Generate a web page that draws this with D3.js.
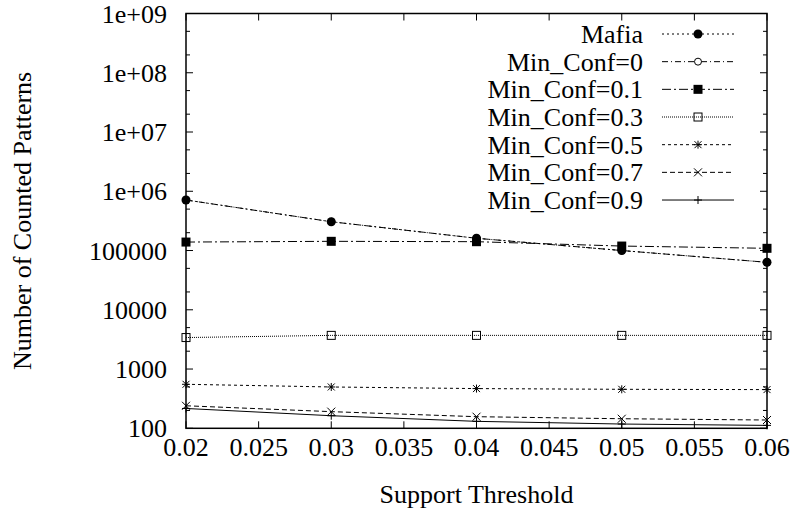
<!DOCTYPE html>
<html>
<head>
<meta charset="utf-8">
<script src="https://cdn.jsdelivr.net/npm/d3@7"></script>
<style>
  svg text { font-family: "Liberation Serif", monospace; font-size: 26px; }
</style>
</head>
<body style="margin:0">
<script>
// data
const thresholds = [0.02, 0.03, 0.04, 0.05, 0.06];
const seriesNames = ["Mafia", "Min_Conf=0", "Min_Conf=0.1", "Min_Conf=0.3", "Min_Conf=0.5", "Min_Conf=0.7", "Min_Conf=0.9"];
const mafia     = [713000, 306000, 161000, 100000, 63300];
const conf0     = [713000, 306000, 161000, 100000, 63300];
const conf01    = [139000, 143000, 141000, 119000, 109000];
const conf03    = [3400, 3700, 3700, 3700, 3700];
const conf05    = [553, 498, 468, 455, 450];
const conf07    = [240, 191, 157, 145, 138];
const conf09    = [216, 163, 131, 118, 112];
const xTicks = [0.02, 0.025, 0.03, 0.035, 0.04, 0.045, 0.05, 0.055, 0.06];
const yTicks = [1e2, 1e3, 1e4, 1e5, 1e6, 1e7, 1e8, 1e9];
const yTickLabels = ["100", "1000", "10000", "100000", "1e+06", "1e+07", "1e+08", "1e+09"];

const allValues = [mafia, conf0, conf01, conf03, conf05, conf07, conf09];
const dashes = ["2,3", "6,3,1,3", "9,3,2,3", "1,1", "3,3", "5,3", null];
const markers = ["dot", "circle", "square", "opensquare", "star", "cross", "plus"];

const width = 793, height = 517;
const margin = {top: 13.5, right: 26, bottom: 88.7, left: 186};

const svg = d3.select("body").append("svg")
    .attr("width", width)
    .attr("height", height);

const x = d3.scaleLinear()
    .domain([0.02, 0.06])
    .range([margin.left, width - margin.right]);

const y = d3.scaleLog()
    .domain([100, 1e9])
    .range([height - margin.bottom, margin.top]);

const plotBottom = height - margin.bottom;
const plotRight = width - margin.right;

// minor ticks at 2 and 5 in each decade
const minorTicks = [];
yTicks.slice(0, -1).forEach(t => { minorTicks.push(2 * t, 5 * t); });

// ticks on all four sides, pointing inward
const ticks = svg.append("g").attr("stroke", "#000").attr("stroke-width", 1);
xTicks.forEach(t => {
    ticks.append("line").attr("x1", x(t)).attr("x2", x(t)).attr("y1", plotBottom).attr("y2", plotBottom - 7);
    ticks.append("line").attr("x1", x(t)).attr("x2", x(t)).attr("y1", margin.top).attr("y2", margin.top + 7);
});
yTicks.forEach(t => {
    ticks.append("line").attr("x1", margin.left).attr("x2", margin.left + 7).attr("y1", y(t)).attr("y2", y(t));
    ticks.append("line").attr("x1", plotRight).attr("x2", plotRight - 7).attr("y1", y(t)).attr("y2", y(t));
});
minorTicks.forEach(t => {
    ticks.append("line").attr("x1", margin.left).attr("x2", margin.left + 4).attr("y1", y(t)).attr("y2", y(t));
    ticks.append("line").attr("x1", plotRight).attr("x2", plotRight - 4).attr("y1", y(t)).attr("y2", y(t));
});

// tick labels
svg.append("g").selectAll("text")
    .data(xTicks)
    .enter().append("text")
    .style("font-family", d => '"Liberation Serif", monospace')
    .style("font-size", "26px")
    .attr("x", d => x(d))
    .attr("y", plotBottom + 28)
    .attr("text-anchor", "middle")
    .text(d => String(d));

svg.append("g").selectAll("text")
    .data(yTicks)
    .enter().append("text")
    .style("font-family", d => '"Liberation Serif", monospace')
    .style("font-size", "26px")
    .attr("x", margin.left - 19)
    .attr("y", d => y(d) + 9)
    .attr("text-anchor", "end")
    .text((d, i) => yTickLabels[i]);

// axis titles
svg.append("g").selectAll("text")
    .data(["Support Threshold"])
    .enter().append("text")
    .style("font-family", d => '"Liberation Serif", monospace')
    .style("font-size", "26px")
    .attr("x", (margin.left + plotRight) / 2)
    .attr("y", 503)
    .attr("text-anchor", "middle")
    .text(d => d);

svg.append("g").selectAll("text")
    .data(["Number of Counted Patterns"])
    .enter().append("text")
    .style("font-family", d => '"Liberation Serif", monospace')
    .style("font-size", "26px")
    .attr("transform", `translate(31,${(margin.top + plotBottom) / 2}) rotate(-90)`)
    .attr("text-anchor", "middle")
    .text(d => d);

// draw a point marker
function drawMarker(g, type, cx, cy) {
    const s = g.append("g").attr("transform", `translate(${cx},${cy})`);
    if (type === "dot") {
        s.append("circle").attr("r", 4.5).attr("fill", "#000");
    } else if (type === "circle") {
        s.append("circle").attr("r", 3.5).attr("fill", "#fff").attr("stroke", "#000");
    } else if (type === "square") {
        s.append("rect").attr("x", -4.5).attr("y", -4.5).attr("width", 9).attr("height", 9).attr("fill", "#000");
    } else if (type === "opensquare") {
        s.append("rect").attr("x", -4).attr("y", -4).attr("width", 8).attr("height", 8).attr("fill", "none").attr("stroke", "#000");
    } else if (type === "star") {
        s.append("path").attr("d", "M-4,0H4M0,-4V4M-3.5,-3.5L3.5,3.5M-3.5,3.5L3.5,-3.5").attr("stroke", "#000");
    } else if (type === "cross") {
        s.append("path").attr("d", "M-4,-4L4,4M-4,4L4,-4").attr("stroke", "#000");
    } else if (type === "plus") {
        s.append("path").attr("d", "M-4,0H4M0,-4V4").attr("stroke", "#000");
    }
}

const line = d3.line()
    .x((d, i) => x(thresholds[i]))
    .y(d => y(d));

// series, drawn from the last one so Mafia sits on top
const plot = svg.append("g");
for (let k = allValues.length - 1; k >= 0; k--) {
    plot.append("path")
        .datum(allValues[k])
        .attr("d", line)
        .attr("fill", "none")
        .attr("stroke", "#000")
        .attr("stroke-width", 1)
        .attr("stroke-dasharray", dashes[k]);
    allValues[k].forEach((v, i) => drawMarker(plot, markers[k], x(thresholds[i]), y(v)));
}

// border
svg.append("rect")
    .attr("x", margin.left)
    .attr("y", margin.top)
    .attr("width", plotRight - margin.left)
    .attr("height", plotBottom - margin.top)
    .attr("fill", "none")
    .attr("stroke", "#000")
    .attr("stroke-width", 1.5);

// legend
const legend = svg.append("g");
legend.selectAll("text")
    .data(seriesNames)
    .enter().append("text")
    .style("font-family", d => '"Liberation Serif", monospace')
    .style("font-size", "26px")
    .attr("x", 643)
    .attr("y", (d, k) => 43 + k * 27.67)
    .attr("text-anchor", "end")
    .text(d => d);
seriesNames.forEach((name, k) => {
    const ly = 34 + k * 27.67;
    legend.append("line")
        .attr("x1", 662).attr("x2", 734)
        .attr("y1", ly).attr("y2", ly)
        .attr("stroke", "#000")
        .attr("stroke-width", 1)
        .attr("stroke-dasharray", dashes[k]);
    drawMarker(legend, markers[k], 698, ly);
});
</script>
</body>
</html>
